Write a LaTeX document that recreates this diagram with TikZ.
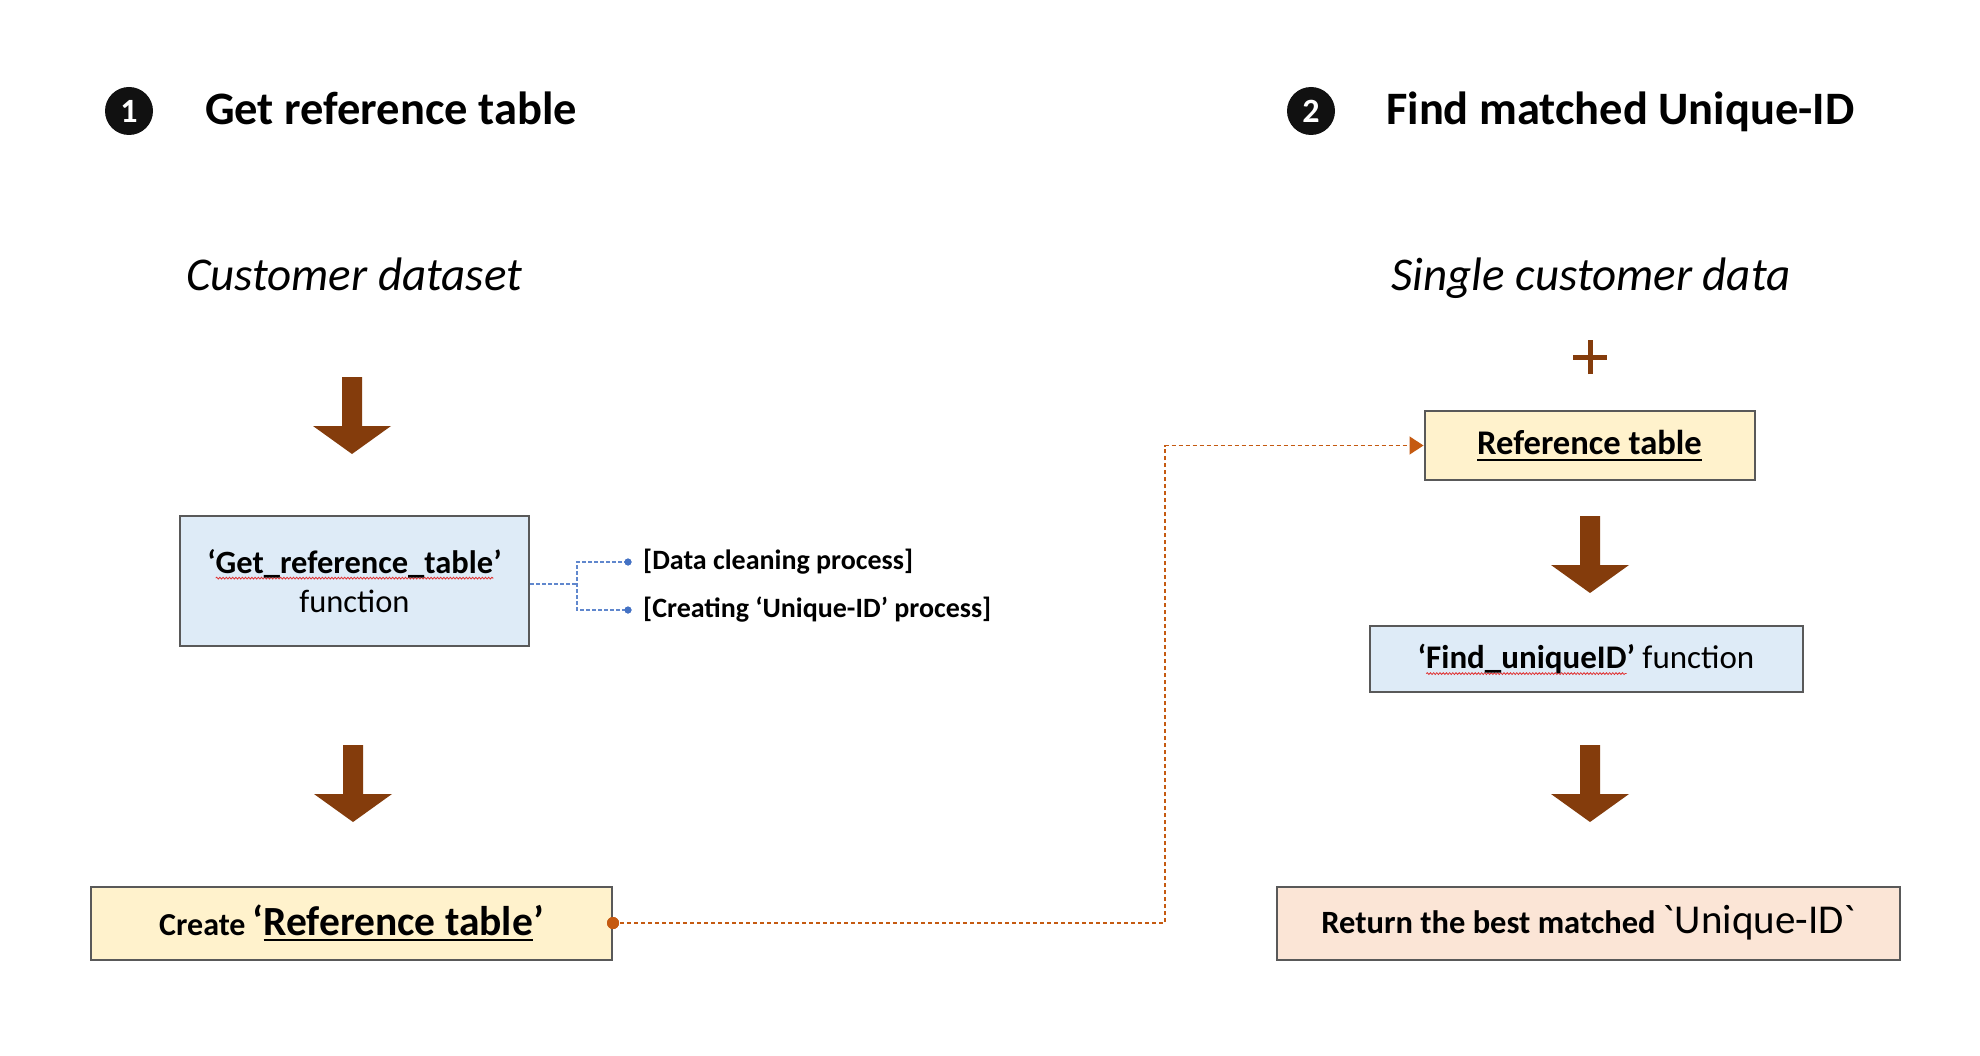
\documentclass[tikz,border=0pt]{standalone}
\usepackage{fontspec}
\setmainfont{Carlito}
\usetikzlibrary{arrows.meta,decorations.pathmorphing}
\definecolor{brownarrow}{HTML}{843C0C}
\definecolor{boxblue}{HTML}{DEEBF7}
\definecolor{boxyellow}{HTML}{FFF2CC}
\definecolor{boxpeach}{HTML}{FBE5D6}
\definecolor{boxline}{HTML}{595959}
\definecolor{linkblue}{HTML}{4472C4}
\definecolor{linkorange}{HTML}{C55A11}
\definecolor{wavered}{HTML}{E03030}
\definecolor{nearblack}{HTML}{111111}
\newsavebox\ulbox
\newcommand\underl[1]{\sbox\ulbox{#1}\rlap{\vrule width\wd\ulbox height -4pt depth 6pt}\usebox\ulbox}
\newcommand\redwave[1]{\sbox\ulbox{#1}\rlap{\tikz[overlay,baseline=0pt]\draw[wavered,line width=0.8pt,decorate,decoration={snake,amplitude=0.9pt,segment length=3.2pt}] (0pt,-5pt) -- (\wd\ulbox,-5pt);}\usebox\ulbox}
\newcommand\fs[1]{\fontsize{#1}{#1}\selectfont}
\newcommand\blockarrow[3]{%
  \fill[brownarrow] ({#1-10},#2) -- ({#1+10},#2) -- ({#1+10},{#3-28}) -- ({#1+39},{#3-28})
    -- (#1,#3) -- ({#1-39},{#3-28}) -- ({#1-10},{#3-28}) -- cycle;}
\begin{document}
\begin{tikzpicture}[x=1pt,y=-1pt,
  numcirc/.style={circle,fill=nearblack,text=white,minimum size=48,inner sep=0,font=\fs{34}\bfseries},
  titletext/.style={anchor=base west,inner sep=0,font=\fs{46.5}\bfseries},
  subtitle/.style={anchor=base,inner sep=0,font=\fs{47}\itshape},
  flowbox/.style={draw=boxline,line width=2,inner sep=0,align=center},
  sidelabel/.style={anchor=west,inner sep=0,font=\fs{28}\bfseries},
  bluedot/.style={circle,fill=linkblue,minimum size=7,inner sep=0},
  bluedash/.style={draw=linkblue!85,line width=1.1,dash pattern=on 4pt off 2pt},
  orangedot/.style={circle,fill=linkorange,minimum size=12,inner sep=0},
  orangedash/.style={draw=linkorange,line width=1.3,dash pattern=on 4pt off 3pt},
]
\useasboundingbox[fill=white] (0,0) rectangle (1980,1056);

% headers
\node[numcirc] (n1) at (129,111) {1};
\node[titletext] (t1) at (205,125) {Get reference table};
\node[numcirc] (n2) at (1311,111) {2};
\node[titletext] (t2) at (1386,125) {Find matched Unique-ID};

\node[subtitle] (s1) at (354,291) {Customer dataset};
\node[subtitle] (s2) at (1591,291) {Single customer data};

% left column
\blockarrow{352}{377}{454}
\node[flowbox,fill=boxblue,minimum width=349,minimum height=130,font=\fs{32.5}] (grt) at (354.5,581)
  {\bfseries ‘\redwave{Get\_reference\_table}’\\[7pt]\mdseries function};
\blockarrow{353}{745}{822}
\node[flowbox,fill=boxyellow,minimum width=521,minimum height=73] (crt) at (351.5,923)
  {\fs{32}\bfseries Create \fs{41.5}‘\underl{Reference table}’};

% side labels
\node[bluedot] (d1) at (628,562) {};
\node[bluedot] (d2) at (628,610) {};
\node[sidelabel] (l1) at (643,562) {[Data cleaning process]};
\node[sidelabel] (l2) at (643,610) {[Creating ‘Unique-ID’ process]};
\coordinate (jn) at (577,584);
\draw[bluedash] (grt.east |- jn) -- (jn);
\draw[bluedash] (d1.center) -| (jn) |- (d2.center);
\node[bluedot] at (d1) {};
\node[bluedot] at (d2) {};

% right column
\coordinate (plus) at (1590,357);
\draw[brownarrow,line width=5] ([xshift=-17pt]plus) -- ([xshift=17pt]plus);
\draw[brownarrow,line width=5] ([yshift=-17pt]plus) -- ([yshift=17pt]plus);
\node[flowbox,fill=boxyellow,minimum width=330,minimum height=69,font=\fs{34.6}\bfseries] (rt) at (1589.5,445.5)
  {\underl{Reference table}};
\blockarrow{1590}{516}{593}
\node[flowbox,fill=boxblue,minimum width=433,minimum height=66,font=\fs{33}] (fu) at (1586,659)
  {\textbf{‘\redwave{Find\_uniqueID}’} function};
\blockarrow{1590}{745}{822}
\node[flowbox,fill=boxpeach,minimum width=623,minimum height=73] (bm) at (1588.5,923)
  {\fs{32.5}\bfseries Return the best matched \fs{41}\mdseries\textasciigrave Unique-ID\textasciigrave};

% orange link
\coordinate (vx) at (1165,0);
\node[orangedot] (od) at (crt.east) {};
\draw[orangedash,-{Triangle[length=14pt,width=18pt]}] (od.center) -| (rt.west -| vx) -- (rt.west);
\node[orangedot] at (od) {};
\end{tikzpicture}
\end{document}
